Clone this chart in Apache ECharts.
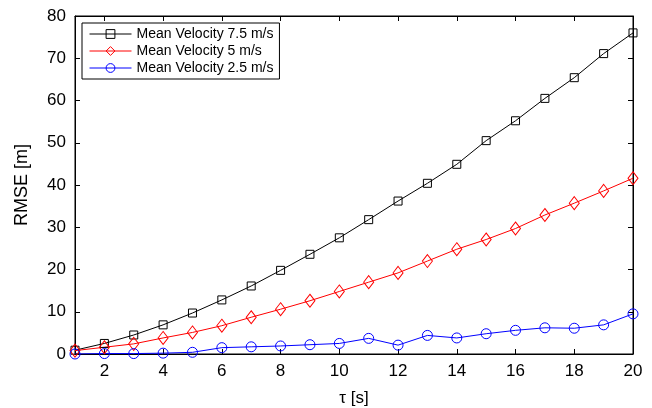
<!DOCTYPE html>
<html>
<head>
<meta charset="utf-8">
<script src="https://cdn.jsdelivr.net/npm/echarts@6/dist/echarts.min.js"></script>
<style>html,body{margin:0;padding:0;background:#fff}#c{width:652px;height:408px}</style>
</head>
<body>
<div id="c"></div>
<script>
var tau = [1,2,3,4,5,6,7,8,9,10,11,12,13,14,15,16,17,18,19,20];
var v75 = [0.9,2.5,4.5,6.9,9.7,12.8,16.1,19.8,23.6,27.5,31.8,36.2,40.4,44.9,50.5,55.2,60.5,65.4,71.1,76.0];
var v5  = [0.8,1.6,2.4,3.8,5.1,6.7,8.7,10.6,12.6,14.8,17.0,19.2,22.0,24.8,27.1,29.7,32.9,35.7,38.6,41.6];
var v25 = [0.0,0.1,0.1,0.2,0.4,1.5,1.7,1.9,2.2,2.5,3.7,2.1,4.4,3.8,4.8,5.6,6.2,6.1,6.9,9.5];
var xTicks = [2,4,6,8,10,12,14,16,18,20];
var seriesNames = ['Mean Velocity 7.5 m/s','Mean Velocity 5 m/s','Mean Velocity 2.5 m/s'];

function pairs(v){ return tau.map(function(t,i){ return [t, v[i]]; }); }
var font = 'Liberation Sans, Arial, Helvetica, sans-serif';
var chart = echarts.init(document.getElementById('c'), null, {renderer:'canvas'});
chart.setOption({
  animation:false,
  backgroundColor:'#fff',
  textStyle:{fontFamily:font},
  grid:{left:75,right:19,top:16,bottom:54,show:true,borderColor:'#000',borderWidth:1,containLabel:false,outerBoundsMode:'none'},
  legend:{
    left:82, top:23, orient:'vertical',
    backgroundColor:'#fff', borderColor:'#000', borderWidth:1,
    padding:[4,6,4,7], itemGap:3, itemWidth:42, itemHeight:11,
    lineStyle:{width:1},
    itemStyle:{borderWidth:1},
    textStyle:{fontSize:14,color:'#000',fontFamily:font},
    data:seriesNames
  },
  xAxis:[{
    type:'value', min:1, max:20, position:'bottom',
    name:'\u03c4 [s]', nameLocation:'middle', nameGap:36,
    nameTextStyle:{fontSize:17,color:'#000',fontFamily:font},
    axisLine:{show:true,onZero:false,lineStyle:{color:'#000',width:1}},
    axisTick:{show:true,inside:true,length:5,customValues:xTicks,lineStyle:{color:'#000'}},
    axisLabel:{show:true,customValues:xTicks,fontSize:17,color:'#000',margin:9,fontFamily:font},
    splitLine:{show:false}
  },{
    type:'value', min:1, max:20, position:'top',
    axisLine:{show:true,onZero:false,lineStyle:{color:'#000',width:1}},
    axisTick:{show:true,inside:true,length:5,customValues:xTicks,lineStyle:{color:'#000'}},
    axisLabel:{show:false}, splitLine:{show:false}
  }],
  yAxis:[{
    type:'value', min:0, max:80, interval:10, position:'left',
    name:'RMSE [m]', nameLocation:'middle', nameGap:44,
    nameTextStyle:{fontSize:18,color:'#000',fontFamily:font},
    axisLine:{show:true,onZero:false,lineStyle:{color:'#000',width:1}},
    axisTick:{show:true,inside:true,length:5,lineStyle:{color:'#000'}},
    axisLabel:{fontSize:17,color:'#000',margin:9,fontFamily:font},
    splitLine:{show:false}
  },{
    type:'value', min:0, max:80, interval:10, position:'right',
    axisLine:{show:true,onZero:false,lineStyle:{color:'#000',width:1}},
    axisTick:{show:true,inside:true,length:5,lineStyle:{color:'#000'}},
    axisLabel:{show:false}, splitLine:{show:false}
  }],
  series:[{
    name:seriesNames[0], type:'line', data:pairs(v75),
    symbol:'rect', symbolSize:8,
    lineStyle:{color:'#000',width:1}, itemStyle:{color:'rgba(0,0,0,0)',borderColor:'#000',borderWidth:1}
  },{
    name:seriesNames[1], type:'line', data:pairs(v5),
    symbol:'diamond', symbolSize:[10,13],
    lineStyle:{color:'#ff0000',width:1}, itemStyle:{color:'rgba(0,0,0,0)',borderColor:'#ff0000',borderWidth:1}
  },{
    name:seriesNames[2], type:'line', data:pairs(v25),
    symbol:'circle', symbolSize:10,
    lineStyle:{color:'#0000ff',width:1}, itemStyle:{color:'rgba(0,0,0,0)',borderColor:'#0000ff',borderWidth:1}
  }]
});
</script>
</body>
</html>
